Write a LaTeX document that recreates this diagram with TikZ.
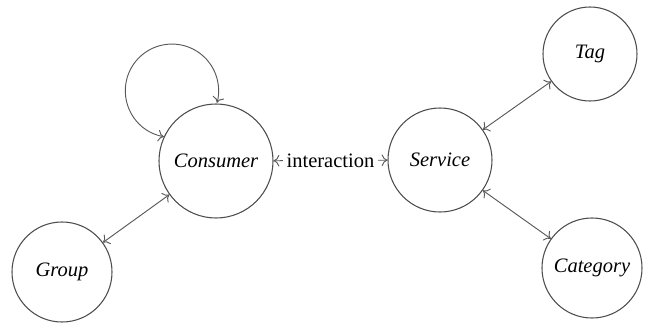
\documentclass[tikz,border=0pt]{standalone}
\usepackage{fontspec}
\setmainfont{Liberation Serif}
\usetikzlibrary{arrows.meta}
\begin{document}
\begin{tikzpicture}[x=0.03cm,y=-0.03cm,font=\fontsize{17.5}{20}\selectfont,
        entity/.style={circle,draw=black!70,line width=0.9pt,inner sep=0pt,font=\fontsize{17.5}{20}\selectfont\itshape},
        link/.style={{To[length=5pt,width=10pt]}-{To[length=5pt,width=10pt]},draw=black!65,line width=0.8pt}]
    \useasboundingbox (0,0) rectangle (661,330);
    \node[entity,minimum size=3.42cm] (consumer) at (216,161) {Consumer};
    \node[entity,minimum size=3.12cm] (service) at (440,160) {Service};
    \node[entity,minimum size=2.82cm] (tag) at (590,54) {Tag};
    \node[entity,minimum size=3.0cm] (category) at (592,268) {Category};
    \node[entity,minimum size=3.0cm] (group) at (62,272) {Group};
    % self loop on consumer
    \draw[link] (consumer.155) arc[start angle=-100, end angle=-375, radius=1.4cm];
    \draw[link] (consumer) -- node[fill=white,inner ysep=0pt,inner xsep=3pt] {interaction} (service);
    \draw[link] (service) -- (tag);
    \draw[link] (service) -- (category);
    \draw[link] (consumer) -- (group);
\end{tikzpicture}
\end{document}
